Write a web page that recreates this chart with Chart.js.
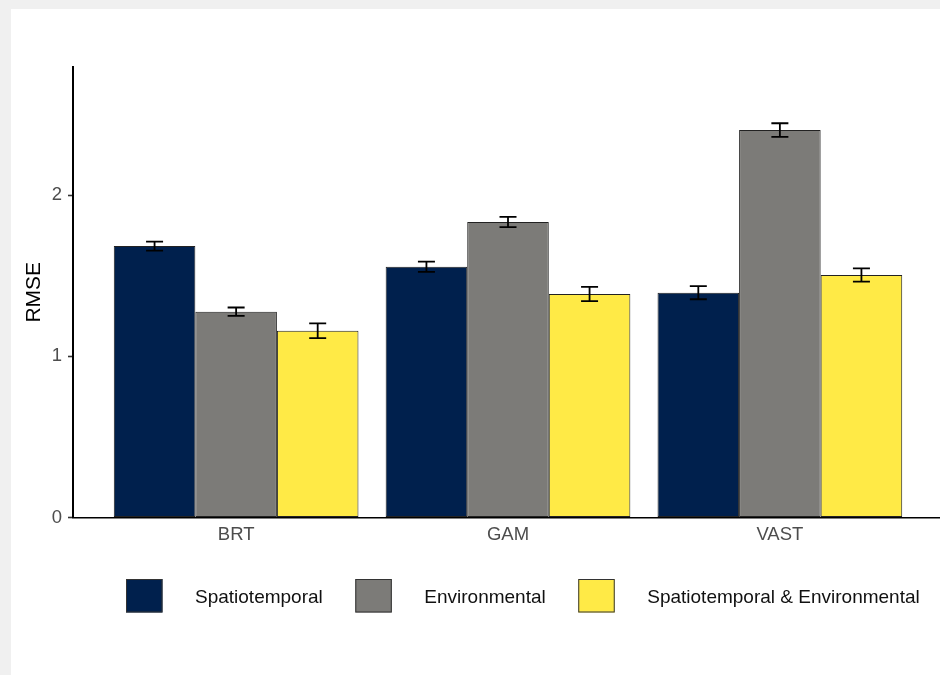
<!DOCTYPE html>
<html>
<head>
<meta charset="utf-8">
<script src="https://cdn.jsdelivr.net/npm/chart.js@4"></script>
<style>
  html, body { margin: 0; padding: 0; background: #f0f0f0; width: 940px; height: 675px; overflow: hidden; }
  #panel { position: absolute; left: 11px; top: 9px; width: 929px; height: 666px; background: #fff; overflow: hidden; }
  #wrap { position: absolute; left: 0; top: 0; width: 940px; height: 666px; }
</style>
</head>
<body>
<div id="panel"><div id="wrap"><canvas id="chartRmse" width="940" height="666"></canvas></div></div>
<script>
// ── Datos ──────────────────────────────────────────────
const modelos = ['BRT', 'GAM', 'VAST'];
const series = ['Spatiotemporal', 'Environmental', 'Spatiotemporal & Environmental'];
const rmseEspacio = [1.684, 1.556, 1.395];
const errEspacio = [0.028, 0.032, 0.041];
const rmseAmbiente = [1.277, 1.833, 2.404];
const errAmbiente = [0.026, 0.032, 0.042];
const rmseAmbos = [1.159, 1.387, 1.505];
const errAmbos = [0.046, 0.044, 0.041];
const yTicks = [0, 1, 2];

const colores = ['#00204D', '#7C7B78', '#FFEA46'];
const fuente = '"Liberation Sans", Arial, Helvetica, sans-serif';

const puntos = vals => vals.map((v, i) => ({ x: i + 1, y: v }));

// barras de error (media ± error) sobre cada barra
const errorBars = {
    id: 'errorBars',
    afterDatasetsDraw(chart) {
        const { ctx, scales: { y } } = chart;
        ctx.save();
        ctx.strokeStyle = '#000';
        ctx.lineWidth = 1.8;
        chart.data.datasets.forEach((ds, di) => {
            const meta = chart.getDatasetMeta(di);
            meta.data.forEach((bar, i) => {
                const v = ds.data[i].y, e = ds.errores[i];
                const top = y.getPixelForValue(v + e);
                const bot = y.getPixelForValue(v - e);
                const half = 8.5;
                ctx.beginPath();
                ctx.moveTo(bar.x, top); ctx.lineTo(bar.x, bot);
                ctx.moveTo(bar.x - half, top); ctx.lineTo(bar.x + half, top);
                ctx.moveTo(bar.x - half, bot); ctx.lineTo(bar.x + half, bot);
                ctx.stroke();
            });
        });
        ctx.restore();
    }
};

// leyenda abajo, estilo ggplot
const leyenda = {
    id: 'leyenda',
    afterDraw(chart) {
        const { ctx } = chart;
        ctx.save();
        ctx.font = '19px ' + fuente;
        ctx.textBaseline = 'middle';
        ctx.textAlign = 'left';
        let x = 115;
        const yBox = 570, boxW = 36.5, boxH = 33.5;
        chart.data.datasets.forEach(ds => {
            ctx.fillStyle = ds.backgroundColor;
            ctx.fillRect(x, yBox, boxW, boxH);
            ctx.strokeStyle = '#333';
            ctx.lineWidth = 1;
            ctx.strokeRect(x + 0.5, yBox + 0.5, boxW - 1, boxH - 1);
            x += boxW + 32.5;
            ctx.fillStyle = '#111';
            ctx.fillText(ds.label, x, yBox + boxH / 2 + 2);
            x += ctx.measureText(ds.label).width + 32.5;
        });
        ctx.restore();
    }
};

const datasets = [rmseEspacio, rmseAmbiente, rmseAmbos].map((vals, k) => ({
    label: series[k],
    data: puntos(vals),
    errores: [errEspacio, errAmbiente, errAmbos][k],
    backgroundColor: colores[k],
    borderColor: '#222',
    borderWidth: 1,
    borderSkipped: false,
    categoryPercentage: 0.9,
    barPercentage: 1.0
}));

new Chart(document.getElementById('chartRmse'), {
    type: 'bar',
    data: { datasets },
    plugins: [errorBars, leyenda],
    options: {
        responsive: false,
        animation: false,
        devicePixelRatio: 1,
        layout: { padding: { left: 0, top: 58, right: 8, bottom: 117.5 } },
        plugins: { legend: { display: false }, tooltip: { enabled: false } },
        scales: {
            x: {
                type: 'linear',
                min: 0.4,
                max: 3.6,
                offset: false,
                afterFit: s => { s.height = 40; },
                grid: { display: false, offset: false, drawTicks: false },
                border: { display: true, color: '#000', width: 1.6 },
                ticks: {
                    stepSize: 1,
                    includeBounds: false,
                    padding: 6,
                    color: '#4d4d4d',
                    font: { family: fuente, size: 18.5 },
                    callback: v => modelos[v - 1] ?? ''
                }
            },
            y: {
                min: 0,
                max: 2.795,
                afterFit: s => { s.width = 62; },
                afterBuildTicks: s => { s.ticks = yTicks.map(v => ({ value: v })); },
                grid: { drawOnChartArea: false, drawTicks: true, tickLength: 5, tickColor: '#333', tickWidth: 1.6 },
                border: { display: true, color: '#000', width: 2 },
                ticks: {
                    padding: 6,
                    color: '#4d4d4d',
                    font: { family: fuente, size: 18.5 }
                },
                title: {
                    display: true,
                    text: 'RMSE',
                    color: '#000',
                    padding: { top: 10.5, bottom: 0 },
                    font: { family: fuente, size: 21 }
                }
            }
        }
    }
});
</script>
</body>
</html>
